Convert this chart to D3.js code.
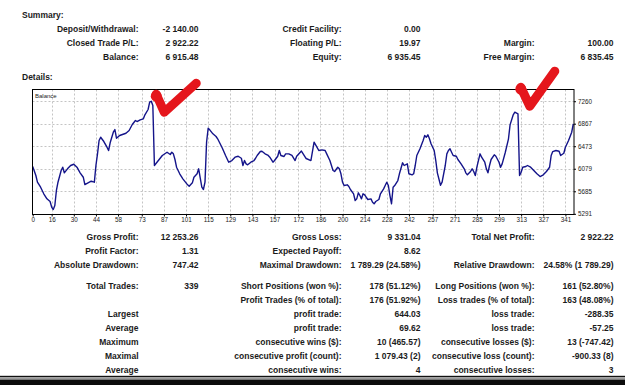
<!DOCTYPE html>
<html>
<head>
<meta charset="utf-8">
<script src="https://cdnjs.cloudflare.com/ajax/libs/d3/7.8.5/d3.min.js"></script>
<style>
  body { margin: 0; background: #fff; }
  svg { display: block; font-family: "Liberation Sans", Arial, sans-serif; }
</style>
</head>
<body>
<svg id="report" width="625" height="385"></svg>
<script>
// balance curve (trade number, balance)
const trades = [4,6,7,9,11,13,15,16,17,18,19,20,22,23,24,26,28,30,32,34,36,37,39,41,43,44,45,46,47,49,
  51,52,53,55,56,57,59,63,65,67,69,70,72,74,75,77,78,79,80,81,83,86,89,91,92,93,94,95,97,99,
  102,103,105,106,108,109,110,111,112,113,114,115,116,118,120,121,124,126,128,130,132,134,136,137,138,139,140,142,144,145,
  146,148,149,151,153,154,156,157,159,160,161,163,164,166,168,170,171,174,177,180,182,183,185,187,189,190,192,194,195,197,
  198,199,200,201,203,204,205,207,208,209,210,211,212,213,214,215,216,218,219,220,221,223,224,226,227,228,229,230,231,232,
  233,235,236,238,239,241,242,244,245,246,247,249,251,252,253,254,255,256,258,259,260,262,263,265,266,267,268,269,270,272,
  273,275,277,278,279,281,282,283,284,285,287,288,290,291,292,293,294,296,297,299,300,301,303,305,306,308,309,311,312,313,
  314,316,317,319,321,323,325,327,329,331,332,333,335,337,338,340,341,343,345,346];
const balance = [6118,5961,5844,5756,5641,5553,5506,5407,5366,5436,5699,5844,6048,6106,6008,6078,6136,6158,6106,6008,5931,5803,5833,5861,5844,6136,6340,6573,6630,6555,
  6456,6398,6533,6718,6765,6613,6660,6700,6748,6853,6923,6905,6935,6952,7022,7115,7243,7260,7185,6136,6206,6311,6368,6328,6368,6340,6241,6106,5991,5903,
  5798,5774,5833,5931,5991,6078,5914,5756,5716,5844,6543,6788,6760,6690,6643,6603,6438,6311,6193,6223,6281,6298,6263,6136,6223,6165,6148,6193,6223,6263,
  6311,6380,6386,6340,6311,6281,6193,6223,6298,6398,6311,6293,6340,6340,6311,6223,6298,6389,6258,6223,6543,6498,6398,6410,6398,6340,6223,6048,6031,6106,
  6078,5991,5844,5786,5798,5768,5716,5641,5524,5553,5658,5611,5553,5641,5623,5581,5541,5553,5494,5466,5506,5541,5641,5728,5786,5844,5786,5611,5466,5756,
  5786,5873,5991,6183,6136,6165,5991,5973,5991,6136,6311,6428,6573,6660,6631,6672,6603,6515,6398,6223,6008,5790,5844,6136,6340,6398,6428,6368,6311,6298,
  6241,6165,6078,6008,5973,6031,6078,6031,5961,6106,6340,6281,6193,6078,6008,6136,6241,6323,6298,6193,6106,6165,6368,6603,6847,7022,7068,7040,5961,6019,
  6106,6118,6136,6106,6048,5991,5943,5973,6031,6106,6311,6380,6398,6386,6311,6351,6456,6573,6718,6865];

const xTicks = [0,16,30,44,58,73,87,101,115,129,143,157,172,186,200,214,228,242,257,271,285,299,313,327,341];
const yTicks = [5291,5685,6079,6473,6867,7260];

const summaryRows = [
  ["Deposit/Withdrawal:", "-2 140.00", "Credit Facility:", "0.00", "", ""],
  ["Closed Trade P/L:", "2 922.22", "Floating P/L:", "19.97", "Margin:", "100.00"],
  ["Balance:", "6 915.48", "Equity:", "6 935.45", "Free Margin:", "6 835.45"]
];
const detailRows = [
  ["Gross Profit:", "12 253.26", "Gross Loss:", "9 331.04", "Total Net Profit:", "2 922.22"],
  ["Profit Factor:", "1.31", "Expected Payoff:", "8.62", "", ""],
  ["Absolute Drawdown:", "747.42", "Maximal Drawdown:", "1 789.29 (24.58%)", "Relative Drawdown:", "24.58% (1 789.29)"],
  ["Total Trades:", "339", "Short Positions (won %):", "178 (51.12%)", "Long Positions (won %):", "161 (52.80%)"],
  ["", "", "Profit Trades (% of total):", "176 (51.92%)", "Loss trades (% of total):", "163 (48.08%)"],
  ["Largest", "", "profit trade:", "644.03", "loss trade:", "-288.35"],
  ["Average", "", "profit trade:", "69.62", "loss trade:", "-57.25"],
  ["Maximum", "", "consecutive wins ($):", "10 (465.57)", "consecutive losses ($):", "13 (-747.42)"],
  ["Maximal", "", "consecutive profit (count):", "1 079.43 (2)", "consecutive loss (count):", "-900.33 (8)"],
  ["Average", "", "consecutive wins:", "4", "consecutive losses:", "3"]
];

// the two peaks someone circled in red
const markedPeaks = [79, 309];

const svg = d3.select("#report");
svg.append("rect").attr("width", 625).attr("height", 385).attr("fill", "#fff");

const ink = "#1b1b1b";
const cols = [138.5, 198.5, 341.5, 420.5, 534.5, 613.5];

function row(items, yPos) {
  items.forEach((s, k) => {
    if (!s) return;
    svg.append("text")
      .attr("x", cols[k]).attr("y", yPos)
      .attr("text-anchor", "end")
      .attr("font-size", 8.5).attr("font-weight", "bold")
      .attr("fill", ink)
      .text(s);
  });
}

svg.append("text").attr("x", 22).attr("y", 17.5)
  .attr("font-size", 8.5).attr("font-weight", "bold").attr("fill", ink).text("Summary:");
svg.append("text").attr("x", 22).attr("y", 80)
  .attr("font-size", 8.5).attr("font-weight", "bold").attr("fill", ink).text("Details:");

[32, 46, 60].forEach((yy, i) => row(summaryRows[i], yy));
[240, 254, 268, 289, 303, 316.5, 330.5, 344.5, 358.5, 372.5].forEach((yy, i) => row(detailRows[i], yy));

// chart
const frame = { left: 32.5, top: 89.5, right: 574, bottom: 214.5 };

const x = d3.scaleLinear()
  .domain(d3.extent(trades))
  .range([32.7, 573.3])
  .clamp(true);
const y = d3.scaleLinear()
  .domain([5279, 7465])
  .range([frame.bottom, frame.top]);

const plot = svg.append("g");

plot.append("rect")
  .attr("x", frame.left).attr("y", frame.top)
  .attr("width", frame.right - frame.left).attr("height", frame.bottom - frame.top)
  .attr("fill", "#fff");

plot.selectAll(".vgrid")
  .data(xTicks.filter(d => d > 0))
  .enter().append("line")
  .attr("class", "vgrid")
  .attr("x1", d => Math.round(x(d)) + 0.5).attr("x2", d => Math.round(x(d)) + 0.5)
  .attr("y1", frame.top).attr("y2", frame.bottom)
  .attr("stroke", "#c4c4c4").attr("stroke-dasharray", "2,2");

plot.selectAll(".hgrid")
  .data(yTicks.slice(1))
  .enter().append("line")
  .attr("class", "hgrid")
  .attr("y1", d => Math.round(y(d)) + 0.5).attr("y2", d => Math.round(y(d)) + 0.5)
  .attr("x1", frame.left).attr("x2", frame.right)
  .attr("stroke", "#c4c4c4").attr("stroke-dasharray", "2,2");

const line = d3.line()
  .x((d, i) => x(trades[i]))
  .y(d => y(d));

plot.append("path")
  .datum(balance)
  .attr("d", line)
  .attr("fill", "none")
  .attr("stroke", "#14148a")
  .attr("stroke-width", 1.4)
  .attr("stroke-linejoin", "round");

plot.append("rect")
  .attr("x", frame.left).attr("y", frame.top)
  .attr("width", frame.right - frame.left).attr("height", frame.bottom - frame.top)
  .attr("fill", "none").attr("stroke", "#000").attr("stroke-width", 1);

plot.append("text")
  .attr("x", 35).attr("y", 97.5)
  .attr("font-size", 6).attr("fill", ink)
  .text("Balance");

const xAxis = svg.append("g")
  .attr("transform", `translate(0,${frame.bottom})`)
  .call(d3.axisBottom(x).tickValues(xTicks).tickSize(2).tickPadding(1).tickFormat(d3.format("d")));
xAxis.select(".domain").remove();
xAxis.selectAll("text").attr("font-size", 6.3).attr("fill", ink).attr("font-family", "Liberation Sans, Arial, sans-serif");

const yAxis = svg.append("g")
  .attr("transform", `translate(${frame.right},0)`)
  .call(d3.axisRight(y).tickValues(yTicks).tickSize(2).tickPadding(2).tickFormat(d3.format("d")));
yAxis.select(".domain").remove();
yAxis.selectAll("text").attr("font-size", 6.3).attr("fill", ink).attr("font-family", "Liberation Sans, Arial, sans-serif");

// red check marks next to the two peaks
const checkShapes = [
  [[5, -7], [13, 11], [45, -18]],
  [[6, -25], [15, -6], [40, -41]]
];
markedPeaks.forEach((t, k) => {
  const px = x(t), py = y(balance[trades.indexOf(t)]);
  const pts = checkShapes[k].map(([dx, dy]) => [px + dx, py + dy]);
  svg.append("path")
    .attr("d", d3.line()(pts))
    .attr("fill", "none")
    .attr("stroke", "#e5161c")
    .attr("stroke-width", 9)
    .attr("stroke-linecap", "round")
    .attr("stroke-linejoin", "round");
  svg.append("circle")
    .attr("cx", pts[0][0]).attr("cy", pts[0][1] + 2).attr("r", 5.5)
    .attr("fill", "#e5161c");
});

// dark band along the bottom edge
svg.append("rect").attr("x", 0).attr("y", 375.8).attr("width", 625).attr("height", 1.4).attr("fill", "#111");
svg.append("rect").attr("x", 0).attr("y", 377.2).attr("width", 625).attr("height", 2.4).attr("fill", "#9a9a9a");
svg.append("rect").attr("x", 0).attr("y", 379.6).attr("width", 625).attr("height", 5.4).attr("fill", "#0c0c0c");
</script>
</body>
</html>
